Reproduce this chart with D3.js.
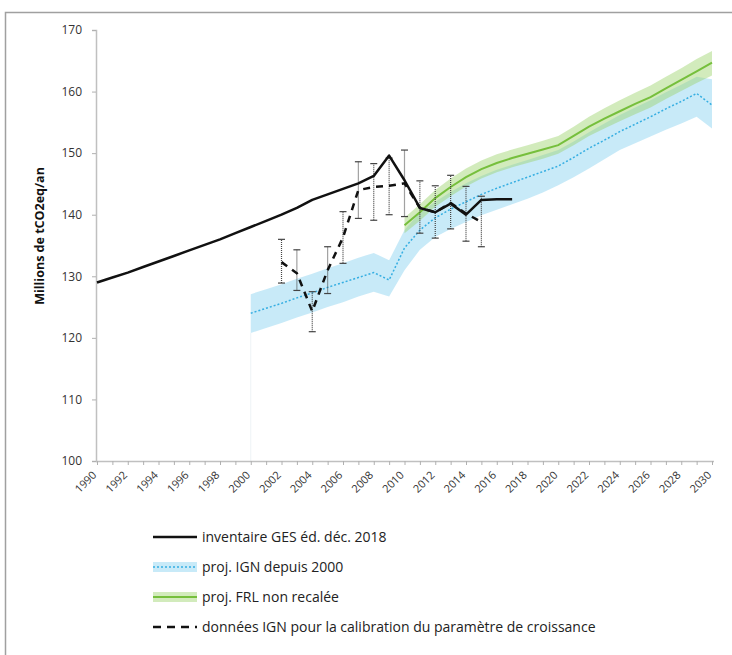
<!DOCTYPE html>
<html>
<head>
<meta charset="utf-8">
<script src="https://cdn.jsdelivr.net/npm/d3@7"></script>
<style>
  body { margin: 0; background: #fff; }
  svg { display: block; font-family: "Open Sans", Lato, sans-serif; }
</style>
</head>
<body>
<script>
var w = 732;
var h = 655;

var years = d3.range(1990, 2031);
var yTicks = [100, 110, 120, 130, 140, 150, 160, 170];

// inventaire GES (1990-2017)
var invStart = 1990;
var inventaire = [129.0, 129.8, 130.6, 131.5, 132.4, 133.3, 134.2, 135.1, 136.0, 137.0,
                  138.0, 139.0, 140.0, 141.1, 142.4, 143.3, 144.2, 145.1, 146.3, 149.6,
                  145.6, 141.1, 140.4, 141.8, 140.0, 142.4, 142.5, 142.5];

// proj. IGN depuis 2000 (2000-2030)
var ignStart = 2000;
var ignMid = [124.0, 124.8, 125.6, 126.5, 127.3, 128.2, 129.0, 129.8, 130.6, 129.4,
              134.6, 137.5, 139.5, 140.9, 142.1, 143.3, 144.3, 145.2, 146.1, 147.0,
              147.9, 149.3, 150.8, 152.1, 153.5, 154.7, 155.9, 157.2, 158.4, 159.7, 157.8];
var ignHigh = [127.1, 127.9, 128.7, 129.6, 130.4, 131.3, 132.1, 133.0, 133.8, 132.6,
               137.5, 140.4, 142.1, 143.7, 145.1, 146.3, 147.3, 148.1, 148.9, 149.7,
               150.5, 151.9, 153.4, 154.8, 156.2, 157.4, 158.6, 159.9, 161.1, 162.4, 162.0];
var ignLow = [120.8, 121.6, 122.4, 123.3, 124.1, 125.0, 125.8, 126.7, 127.5, 126.7,
              131.0, 134.3, 136.4, 137.7, 138.8, 139.9, 140.8, 141.7, 142.6, 143.6,
              144.8, 146.1, 147.5, 149.0, 150.5, 151.6, 152.7, 153.8, 154.8, 155.9, 154.0];

// proj. FRL non recalée (2010-2030)
var frlStart = 2010;
var frlMid = [138.3, 140.4, 142.7, 144.5, 146.1, 147.4, 148.4, 149.2, 149.9, 150.6,
              151.3, 152.8, 154.3, 155.6, 156.8, 158.0, 159.1, 160.5, 161.9, 163.3, 164.7];
var frlHigh = [139.5, 141.7, 144.0, 145.9, 147.5, 148.8, 149.8, 150.6, 151.3, 152.0,
               152.8, 154.3, 155.9, 157.3, 158.6, 159.8, 161.0, 162.4, 163.8, 165.3, 166.6];
var frlLow = [137.0, 139.0, 141.3, 143.0, 144.6, 145.9, 146.9, 147.7, 148.4, 149.1,
              149.9, 151.3, 152.8, 154.0, 155.2, 156.3, 157.4, 158.8, 160.1, 161.4, 162.6];

// données IGN pour la calibration (2002-2015)
var calStart = 2002;
var calMid = [132.3, 130.5, 124.3, 131.0, 136.3, 144.0, 144.5, 144.7, 145.1, 141.1, 140.4, 141.9, 140.2, 138.8];
var calLow = [128.9, 127.7, 121.0, 127.2, 132.1, 139.4, 139.1, 140.0, 139.7, 137.0, 136.2, 137.7, 135.7, 134.8];
var calHigh = [136.0, 134.3, 127.5, 134.8, 140.5, 148.6, 148.3, 149.2, 150.5, 145.5, 144.7, 146.4, 144.6, 143.0];

var legendLabels = ['inventaire GES éd. déc. 2018', 'proj. IGN depuis 2000',
                    'proj. FRL non recalée', 'données IGN pour la calibration du paramètre de croissance'];

function toPoints(start, arr) {
	return arr.map(function(v, i) { return { year: start + i, v: v }; });
}
function toBand(start, lo, hi) {
	return lo.map(function(v, i) { return { year: start + i, lo: v, hi: hi[i] }; });
}

var svg = d3.select('body').append('svg')
	.attr('width', w)
	.attr('height', h);

// outer frame
svg.append('rect')
	.attr('x', 5.5).attr('y', 12.5)
	.attr('width', 760).attr('height', 700)
	.attr('fill', 'none')
	.attr('stroke', '#a0a0a0')
	.attr('stroke-width', 1.5);

var x = d3.scalePoint().domain(years).range([97, 712]);
var y = d3.scaleLinear().domain([100, 170]).range([461, 30]);

var area = d3.area()
	.x(function(d) { return x(d.year); })
	.y0(function(d) { return y(d.lo); })
	.y1(function(d) { return y(d.hi); });
var line = d3.line()
	.x(function(d) { return x(d.year); })
	.y(function(d) { return y(d.v); });

// faint edge left by the band base
svg.append('line')
	.attr('x1', x(ignStart)).attr('x2', x(ignStart))
	.attr('y1', y(ignLow[0])).attr('y2', y(100))
	.attr('stroke', '#eef3f6').attr('stroke-width', 1);

// bands
svg.append('path')
	.datum(toBand(ignStart, ignLow, ignHigh))
	.attr('d', area)
	.attr('fill', '#86d0f0')
	.attr('fill-opacity', 0.45);
svg.append('path')
	.datum(toBand(frlStart, frlLow, frlHigh))
	.attr('d', area)
	.attr('fill', '#9cd36a')
	.attr('fill-opacity', 0.45);

// axes
var yAxis = svg.append('g')
	.attr('transform', 'translate(96,0)')
	.call(d3.axisLeft(y).tickValues(yTicks).tickSize(4).tickPadding(10));
var xAxis = svg.append('g')
	.attr('transform', 'translate(0,461)')
	.call(d3.axisBottom(x).tickSize(4).tickFormat(function(d) { return d % 2 === 0 ? d : ''; }));

[yAxis, xAxis].forEach(function(g) {
	g.select('.domain').attr('stroke', '#c0c0c0').attr('stroke-width', 1.5);
	g.selectAll('.tick line').attr('stroke', '#b0b0b0');
	g.selectAll('text').attr('fill', '#333').style('font-size', '12px').style('font-family', '"Open Sans", sans-serif');
});
xAxis.select('.domain').attr('d', 'M96,0.5H714');
xAxis.selectAll('.tick text')
	.attr('text-anchor', 'end')
	.attr('dy', '0.35em')
	.attr('transform', 'translate(-3,12) rotate(-45)')
	.attr('y', 0)
	.style('font-size', '11px');

// y title
svg.append('text')
	.attr('transform', 'translate(44,236) rotate(-90)')
	.attr('text-anchor', 'middle')
	.style('font-size', '12.5px')
	.style('font-weight', 'bold')
	.attr('fill', '#111')
	.text('Millions de tCO2eq/an');

// lines
svg.append('path')
	.datum(toPoints(frlStart, frlMid))
	.attr('d', line)
	.attr('fill', 'none')
	.attr('stroke', '#76bf3c')
	.attr('stroke-width', 2);
svg.append('path')
	.datum(toPoints(ignStart, ignMid))
	.attr('d', line)
	.attr('fill', 'none')
	.attr('stroke', '#35aee2')
	.attr('stroke-width', 1.5)
	.attr('stroke-dasharray', '2,2');

// error bars
var bars = svg.selectAll('g.err')
	.data(calMid.map(function(v, i) { return { year: calStart + i, lo: calLow[i], hi: calHigh[i] }; }))
	.enter().append('g').attr('class', 'err');
bars.append('line')
	.attr('x1', function(d) { return x(d.year); })
	.attr('x2', function(d) { return x(d.year); })
	.attr('y1', function(d) { return y(d.lo); })
	.attr('y2', function(d) { return y(d.hi); })
	.attr('stroke', '#444').attr('stroke-width', 1.2).attr('stroke-dasharray', '1,1');
['lo', 'hi'].forEach(function(k) {
	bars.append('line')
		.attr('x1', function(d) { return x(d.year) - 3.5; })
		.attr('x2', function(d) { return x(d.year) + 3.5; })
		.attr('y1', function(d) { return y(d[k]); })
		.attr('y2', function(d) { return y(d[k]); })
		.attr('stroke', '#444').attr('stroke-width', 1.2);
});

svg.append('path')
	.datum(toPoints(calStart, calMid))
	.attr('d', line)
	.attr('fill', 'none')
	.attr('stroke', '#111')
	.attr('stroke-width', 2.5)
	.attr('stroke-dasharray', '7,6');

svg.append('path')
	.datum(toPoints(invStart, inventaire))
	.attr('d', line)
	.attr('fill', 'none')
	.attr('stroke', '#111')
	.attr('stroke-width', 2.5)
	.attr('stroke-linejoin', 'round');

// legend
var legY = [537, 567, 597, 627];
var leg = svg.selectAll('g.leg')
	.data(legendLabels)
	.enter().append('g')
	.attr('class', 'leg')
	.attr('transform', function(d, i) { return 'translate(153,' + legY[i] + ')'; });

leg.append('text')
	.attr('x', 49).attr('dy', '0.35em')
	.style('font-size', '14px')
	.attr('fill', '#222')
	.text(function(d) { return d; });

d3.select(leg.nodes()[0]).append('line')
	.attr('x1', 0).attr('x2', 44).attr('stroke', '#111').attr('stroke-width', 2.5);

var l1 = d3.select(leg.nodes()[1]);
l1.append('rect').attr('x', 0).attr('y', -5).attr('width', 44).attr('height', 10)
	.attr('fill', '#86d0f0').attr('fill-opacity', 0.45);
l1.append('line').attr('x1', 0).attr('x2', 44)
	.attr('stroke', '#35aee2').attr('stroke-width', 1.5).attr('stroke-dasharray', '2,2');

var l2 = d3.select(leg.nodes()[2]);
l2.append('rect').attr('x', 0).attr('y', -5).attr('width', 44).attr('height', 10)
	.attr('fill', '#9cd36a').attr('fill-opacity', 0.45);
l2.append('line').attr('x1', 0).attr('x2', 44)
	.attr('stroke', '#76bf3c').attr('stroke-width', 2);

d3.select(leg.nodes()[3]).append('line')
	.attr('x1', 0).attr('x2', 44).attr('stroke', '#111').attr('stroke-width', 2.5)
	.attr('stroke-dasharray', '8,6');
</script>
</body>
</html>
